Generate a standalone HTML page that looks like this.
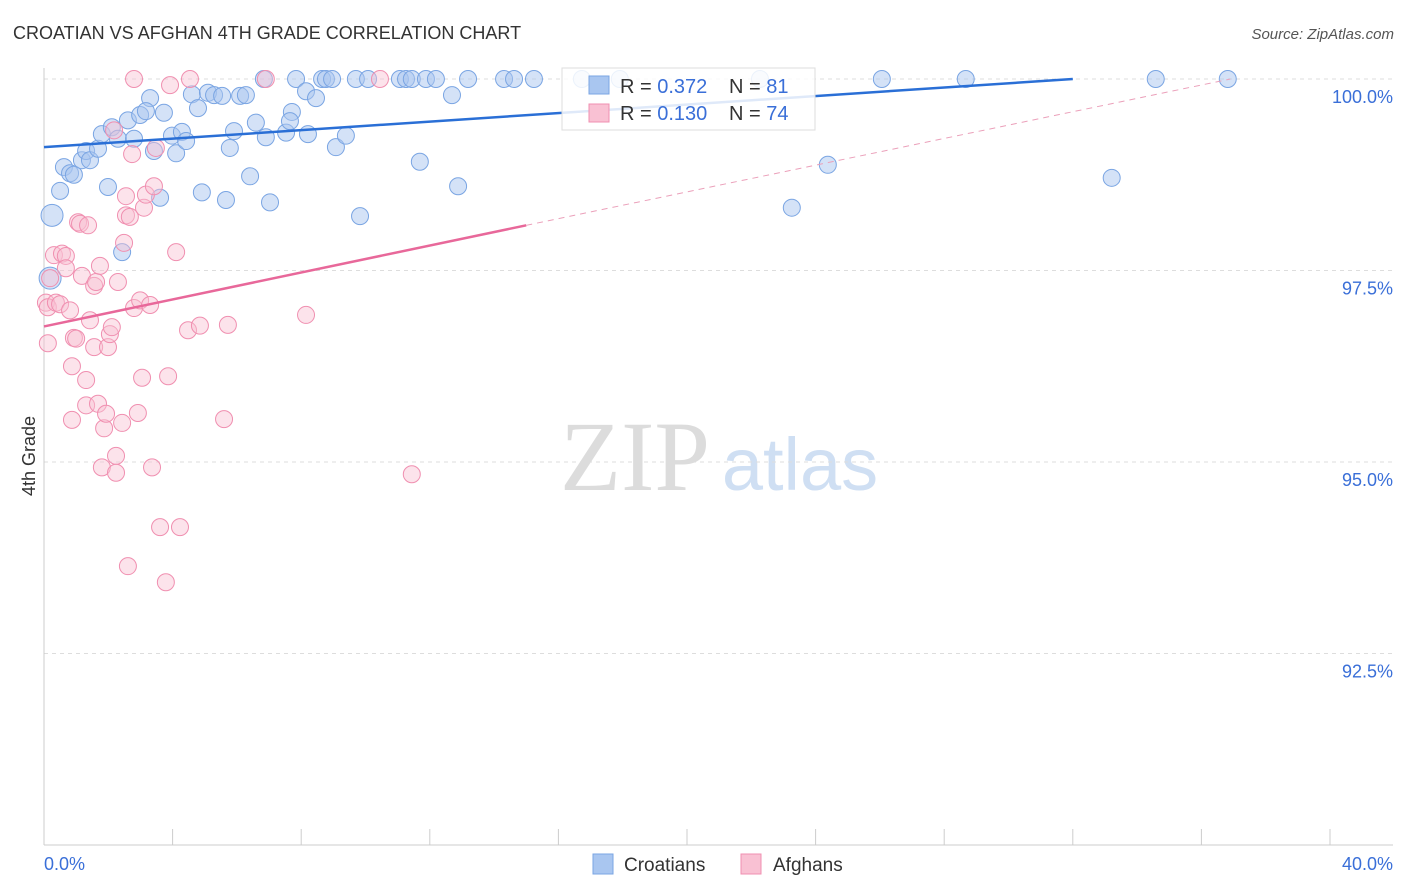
<!DOCTYPE html>
<html><head><meta charset="utf-8"><style>
body{margin:0;background:#fff;font-family:"Liberation Sans",sans-serif;}
svg{display:block}
</style></head><body>
<svg id="chart" width="1406" height="892" xmlns="http://www.w3.org/2000/svg">
<text x="13" y="39" font-size="18" fill="#333">CROATIAN VS AFGHAN 4TH GRADE CORRELATION CHART</text>
<text x="1394" y="39" font-size="15" fill="#555" font-style="italic" text-anchor="end">Source: ZipAtlas.com</text>
<g>
<text x="635" y="490" font-size="100" font-family="Liberation Serif,serif" fill="#dcdcdc" text-anchor="middle">ZIP</text>
<text x="800" y="490" font-size="74" fill="#cfdff3" text-anchor="middle">atlas</text>
</g>
<g id="grid"></g>
<g id="axes"></g>
<g id="marks"></g>
<g id="trends"></g>
<text x="35" y="456" font-size="18" fill="#333" transform="rotate(-90 35 456)" text-anchor="middle">4th Grade</text>
<text x="44" y="870" font-size="18" fill="#3a6fd8">0.0%</text>
<text x="1393" y="870" font-size="18" fill="#3a6fd8" text-anchor="end">40.0%</text>
<g>
<rect x="562" y="68" width="253" height="62" fill="#fff" stroke="#ddd" fill-opacity="0.85"/>
<rect x="589" y="76" width="20" height="18" fill="#a9c6f0" stroke="#7aa5e3"/>
<rect x="589" y="104" width="20" height="18" fill="#f9c1d3" stroke="#f08fb0"/>
<text x="620" y="93" font-size="20" fill="#333">R = <tspan fill="#3a6fd8">0.372</tspan><tspan x="729">N = </tspan><tspan fill="#3a6fd8">81</tspan></text>
<text x="620" y="120" font-size="20" fill="#333">R = <tspan fill="#3a6fd8">0.130</tspan><tspan x="729">N = </tspan><tspan fill="#3a6fd8">74</tspan></text>
</g>
<g>
<rect x="593" y="854" width="20" height="20" fill="#a9c6f0" stroke="#7aa5e3"/>
<text x="624" y="871" font-size="19" fill="#333">Croatians</text>
<rect x="741" y="854" width="20" height="20" fill="#f9c1d3" stroke="#f08fb0"/>
<text x="773" y="871" font-size="19" fill="#333">Afghans</text>
</g>
</svg>
<script>
const yTicks=[100,97.5,95,92.5];
const yTickLabels=["100.0%","97.5%","95.0%","92.5%"];
const xTicks=[0,4,8,12,16,20,24,28,32,36,40];
const croX=[0.25,0.19,0.5,0.62,0.81,0.93,1.18,1.31,1.43,1.68,1.8,1.99,2.11,2.3,2.43,2.61,2.8,2.99,3.3,3.17,3.42,3.61,3.73,3.98,4.11,4.29,4.42,4.6,4.79,4.91,5.1,5.29,5.54,5.66,5.78,5.91,6.1,6.28,6.41,6.59,6.84,6.9,7.03,7.53,7.71,7.65,7.84,8.15,8.21,8.46,8.65,8.77,8.96,9.08,9.39,9.7,9.83,10.08,11.07,11.26,11.44,11.69,11.88,12.19,12.69,12.88,13.19,14.31,14.62,15.24,16.73,17.91,22.27,23.26,24.38,26.06,28.67,33.21,34.58,36.82];
const croY=[98.22,97.4,98.54,98.85,98.77,98.75,98.94,99.06,98.94,99.09,99.28,98.59,99.37,99.22,97.74,99.46,99.22,99.53,99.75,99.58,99.06,98.45,99.56,99.26,99.03,99.31,99.19,99.8,99.62,98.52,99.82,99.79,99.78,98.42,99.1,99.32,99.78,99.79,98.73,99.43,100,99.24,98.39,99.3,99.57,99.45,100,99.84,99.28,99.75,100,100,100,99.11,99.26,100,98.21,100,100,100,100,98.92,100,100,99.79,98.6,100,100,100,100,100,100,100,98.32,98.88,100,100,98.71,100,100];
const afgX=[0.31,0.19,0.06,0.12,0.12,0.37,0.5,0.56,0.68,0.68,0.81,0.87,0.87,0.93,1,1.06,1.12,1.18,1.31,1.31,1.37,1.43,1.56,1.56,1.62,1.68,1.74,1.8,1.87,1.93,1.99,2.05,2.11,2.18,2.24,2.24,2.3,2.43,2.49,2.55,2.55,2.61,2.67,2.74,2.8,2.92,2.99,3.05,3.11,3.17,3.3,3.36,3.42,3.48,3.61,3.79,3.86,3.92,4.11,4.23,4.48,4.54,4.85,5.6,5.72,6.9,8.15,10.45,11.44,2.8];
const afgY=[97.7,97.4,97.08,97.02,96.55,97.08,97.06,97.72,97.69,97.53,96.98,96.25,95.55,96.62,96.61,98.13,98.11,97.43,96.07,95.74,98.09,96.85,96.5,97.3,97.35,95.76,97.56,94.93,95.44,95.63,96.5,96.67,96.76,99.33,95.08,94.86,97.35,95.51,97.86,98.47,98.22,93.64,98.2,99.02,97.01,95.64,97.11,96.1,98.32,98.49,97.05,94.93,98.6,99.1,94.15,93.43,96.12,99.92,97.74,94.15,96.72,100,96.78,95.56,96.79,100,96.92,100,94.84,100];
const croTrend=[[0,99.11],[32,100]];
const afgTrend=[[0,96.77],[15,98.09]];
const afgTrendDash=[[15,98.09],[36.9,100]];
const sx=v=>44+v*(1330-44)/40;
const sy=v=>79+(100-v)*191.5/2.5;
const NS="http://www.w3.org/2000/svg";
function mk(p,t,a){const e=document.createElementNS(NS,t);for(const k in a)e.setAttribute(k,a[k]);p.appendChild(e);return e;}
const grid=document.getElementById('grid'),axes=document.getElementById('axes'),marks=document.getElementById('marks'),trends=document.getElementById('trends');
yTicks.forEach((t,i)=>{
 const l=mk(grid,'line',{x1:44,x2:1393,y1:sy(t),y2:sy(t),stroke:'#ddd','stroke-dasharray':'4,4'});
 
 
 const tx=mk(axes,'text',{x:1393,y:sy(t)+24,'font-size':18,fill:'#3a6fd8','text-anchor':'end'});
 tx.textContent=yTickLabels[i];
 
 
});
const ax=mk(axes,'line',{x1:44,x2:44,y1:68,y2:845,stroke:'#ccc'});


const bx=mk(axes,'line',{x1:44,x2:1393,y1:845,y2:845,stroke:'#ccc'});


xTicks.forEach(t=>{
 const l=mk(axes,'line',{x1:sx(t),x2:sx(t),y1:829,y2:845,stroke:'#ccc'});
 
 
});
croX.forEach((x,i)=>{
 const c=mk(marks,'circle',{cx:sx(x),cy:sy(croY[i]),r:i<2?11:8.5,fill:'#a9c6f0','fill-opacity':0.5,stroke:'#7aa5e3','stroke-width':1});
 
 
});
afgX.forEach((x,i)=>{
 const c=mk(marks,'circle',{cx:sx(x),cy:sy(afgY[i]),r:8.5,fill:'#f9c1d3','fill-opacity':0.45,stroke:'#f08fb0','stroke-width':1});
 
 
});
const l1=mk(trends,'line',{x1:sx(croTrend[0][0]),y1:sy(croTrend[0][1]),x2:sx(croTrend[1][0]),y2:sy(croTrend[1][1]),stroke:'#2a6fd6','stroke-width':2.5});


const l2=mk(trends,'line',{x1:sx(afgTrend[0][0]),y1:sy(afgTrend[0][1]),x2:sx(afgTrend[1][0]),y2:sy(afgTrend[1][1]),stroke:'#e8689a','stroke-width':2.5});


const l3=mk(trends,'line',{x1:sx(afgTrendDash[0][0]),y1:sy(afgTrendDash[0][1]),x2:sx(afgTrendDash[1][0]),y2:sy(afgTrendDash[1][1]),stroke:'#eba0ba','stroke-width':1,'stroke-dasharray':'6,5'});


</script>
</body></html>
